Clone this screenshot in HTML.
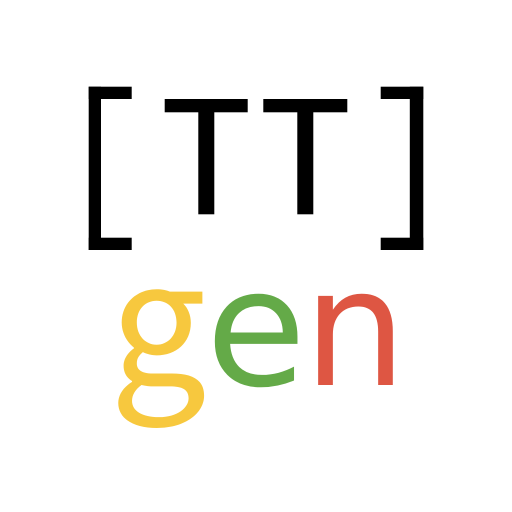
<!DOCTYPE html>
<html><head><style>html,body{margin:0;padding:0;background:#fff;}svg{display:block;}</style></head>
<body>
<svg width="512" height="512" viewBox="0 0 512 512">
  <rect width="512" height="512" fill="#fff"/>
  <g fill="#000">
    <rect x="88.7" y="86.7" width="12.3" height="163.3"/>
    <rect x="88.7" y="86.7" width="43" height="12.3"/>
    <rect x="88.7" y="237.7" width="43" height="12.3"/>
  </g>
  <g fill="#000">
    <rect x="164.7" y="99" width="83" height="13.3"/>
    <rect x="198.3" y="99" width="16" height="115.3"/>
  </g>
  <g fill="#000">
    <rect x="263.3" y="99" width="84" height="13.3"/>
    <rect x="297.3" y="99" width="16" height="115.3"/>
  </g>
  <g fill="#000">
    <rect x="409.8" y="86.7" width="13.5" height="163.3"/>
    <rect x="380.7" y="86.7" width="42.6" height="12.3"/>
    <rect x="380.7" y="237.7" width="42.6" height="12.3"/>
  </g>
  <text x="158" y="385" text-anchor="middle" font-family="'Noto Sans CJK SC', sans-serif" font-size="172" font-weight="400" fill="#F7C83E">g</text>
  <text x="256" y="385" text-anchor="middle" font-family="'DejaVu Sans', sans-serif" font-size="163" fill="#64AA48">e</text>
  <text x="355" y="385" text-anchor="middle" font-family="'DejaVu Sans', sans-serif" font-size="163" fill="#DE5643">n</text>
</svg>
</body></html>
